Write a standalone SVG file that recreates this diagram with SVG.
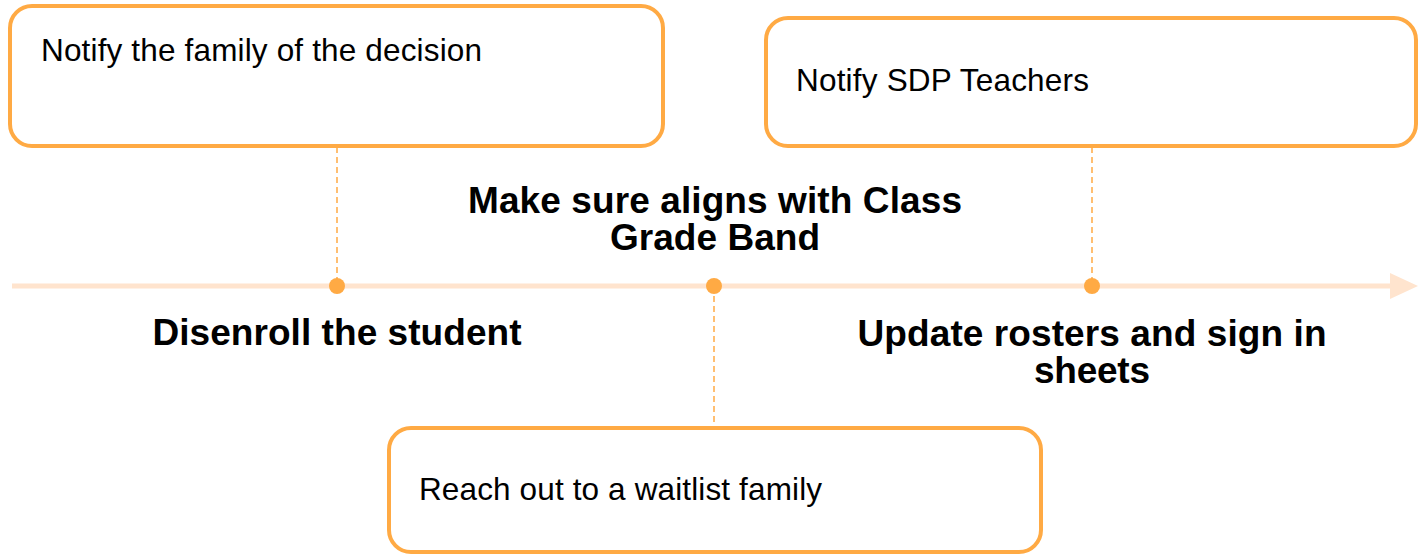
<svg xmlns="http://www.w3.org/2000/svg" width="1418" height="555" viewBox="0 0 1418 555">
<style>
.box{fill:#fff;stroke:#FFAA44;stroke-width:4}
.dash{stroke:#FFAA44;stroke-width:1.5;stroke-dasharray:6 4;fill:none}
.dot{fill:#FFAA44}
.t{font-family:"Liberation Sans",Arial,sans-serif;font-size:31.5px;fill:#000}
.b{font-family:"Liberation Sans",Arial,sans-serif;font-size:37px;font-weight:bold;fill:#000;text-anchor:middle}
</style>
<rect width="1418" height="555" fill="#fff"/>
<g id="connectors">
<line x1="12" y1="286" x2="1392" y2="286" stroke="#FFE4CE" stroke-width="5"/>
<polygon points="1390,273 1418,286 1390,299" fill="#FFE4CE"/>
<line class="dash" x1="337" y1="147" x2="337" y2="286"/>
<line class="dash" x1="1092" y1="147" x2="1092" y2="286"/>
<line class="dash" x1="714" y1="286" x2="714" y2="427"/>
</g>
<g id="dot1"><circle class="dot" cx="337" cy="286" r="8"/></g>
<g id="dot2"><circle class="dot" cx="714" cy="286" r="8"/></g>
<g id="dot3"><circle class="dot" cx="1092" cy="286" r="8"/></g>
<g id="node1">
<rect class="box" x="10" y="6" width="653" height="140" rx="22"/>
<text class="t" x="41" y="61" textLength="441">Notify the family of the decision</text>
</g>
<g id="node2">
<rect class="box" x="766" y="18" width="650" height="128" rx="22"/>
<text class="t" x="796" y="91" textLength="293">Notify SDP Teachers</text>
</g>
<g id="node3">
<rect class="box" x="389" y="428" width="652" height="124" rx="22"/>
<text class="t" x="419" y="500" textLength="403">Reach out to a waitlist family</text>
</g>
<g id="label1"><text class="b" x="337" y="345" textLength="369">Disenroll the student</text></g>
<g id="label2"><text class="b" x="715" y="213" textLength="494">Make sure aligns with Class</text><text class="b" x="715" y="250" textLength="210">Grade Band</text></g>
<g id="label3"><text class="b" x="1092" y="346" textLength="469">Update rosters and sign in</text><text class="b" x="1092" y="383" textLength="116">sheets</text></g>
</svg>
